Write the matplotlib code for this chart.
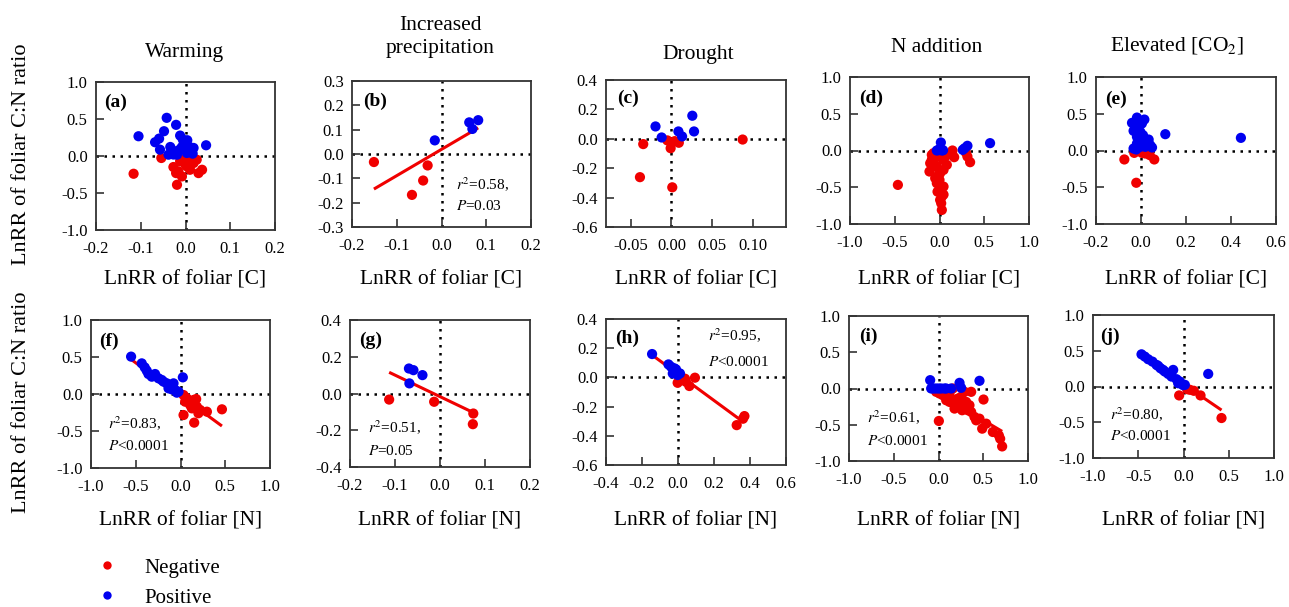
import matplotlib
matplotlib.use("Agg")
import matplotlib.pyplot as plt
from matplotlib.lines import Line2D
import numpy as np

plt.rcParams['font.family'] = ['Liberation Serif', 'DejaVu Serif']
plt.rcParams['mathtext.fontset'] = 'stix'

# ---------------- data ----------------
col_titles = ["Warming", "Increased\nprecipitation", "Drought", "N addition", "Elevated [CO$_2$]"]
panel_letters = ["(a)", "(b)", "(c)", "(d)", "(e)", "(f)", "(g)", "(h)", "(i)", "(j)"]

# (a) Warming, C
a_pos_x = [-0.105, -0.042, -0.048, -0.021, -0.068, -0.059, -0.057, -0.034, -0.038, -0.012, -0.006, 0.004,
           -0.008, -0.019, 0.003, 0.018, 0.016, 0.046, -0.023, -0.003, -0.013, 0.009, -0.027, 0.0]
a_pos_y = [0.267, 0.516, 0.335, 0.421, 0.186, 0.235, 0.086, 0.122, 0.018, 0.276, 0.222, 0.213,
           0.122, 0.018, 0.041, 0.109, 0.032, 0.145, 0.063, 0.154, 0.086, 0.122, 0.02, 0.09]
a_neg_x = [-0.054, -0.116, -0.019, -0.027, -0.016, -0.008, 0.003, 0.010, 0.025, 0.029, 0.037, 0.018,
           -0.006, 0.007, -0.021, 0.0, -0.012, 0.022]
a_neg_y = [-0.027, -0.240, -0.389, -0.149, -0.208, -0.276, -0.14, -0.186, -0.05, -0.231, -0.186, -0.095,
           -0.05, -0.05, -0.231, -0.118, -0.072, -0.05]

# (b) Increased precipitation, C
b_pos_x = [-0.015, 0.062, 0.069, 0.082]
b_pos_y = [0.056, 0.130, 0.103, 0.139]
b_neg_x = [-0.151, -0.066, -0.041, -0.031]
b_neg_y = [-0.033, -0.168, -0.109, -0.047]

# (c) Drought, C
c_pos_x = [-0.0195, -0.012, 0.0085, 0.013, 0.0255, 0.0276]
c_pos_y = [0.084, 0.009, 0.05, 0.016, 0.157, 0.05]
c_neg_x = [-0.0345, -0.0385, 0.001, -0.001, -0.005, 0.009, 0.004, 0.087]
c_neg_y = [-0.036, -0.261, -0.33, -0.064, -0.011, -0.027, -0.016, -0.005]

# (d) N addition, C
d_pos_x = [0.015, -0.03, 0.026, 0.0, 0.26, 0.312, 0.565, -0.01, 0.04, 0.28]
d_pos_y = [0.109, 0.0, 0.0, 0.018, 0.009, 0.064, 0.1, 0.005, 0.004, 0.03]
d_neg_x = [-0.465, -0.086, -0.104, -0.112, -0.067, -0.030, 0.007, 0.045, 0.082, 0.063, -0.030, 0.0,
           0.026, 0.019, 0.026, -0.048, -0.011, 0.045, 0.007, -0.03, 0.145, 0.164, 0.294, 0.312,
           0.342, -0.067, 0.037, -0.048, 0.0, -0.022, 0.045, -0.086, 0.082]
d_neg_y = [-0.468, -0.059, -0.173, -0.286, -0.127, -0.218, -0.309, -0.264, -0.195, -0.082, -0.445, -0.536,
           -0.627, -0.718, -0.809, -0.377, -0.332, -0.491, -0.673, -0.059, 0.0, -0.091, -0.027, -0.082,
           -0.159, -0.036, -0.127, -0.218, -0.4, -0.56, -0.6, -0.127, -0.06]

# (e) Elevated CO2, C
e_pos_x = [-0.04, -0.018, 0.015, 0.004, -0.033, -0.018, -0.003, 0.012, 0.027, 0.041, -0.033, -0.018,
           0.019, -0.003, 0.049, 0.108, 0.444, -0.01, 0.009, 0.034, -0.025, -0.021]
e_pos_y = [0.376, 0.448, 0.421, 0.367, 0.267, 0.186, 0.253, 0.14, 0.118, 0.072, 0.027, 0.095,
           0.05, 0.05, 0.041, 0.222, 0.172, 0.14, 0.208, 0.149, 0.344, 0.014]
e_neg_x = [-0.074, -0.021, 0.039, 0.059, 0.004, 0.019, -0.03]
e_neg_y = [-0.122, -0.439, -0.063, -0.122, -0.032, -0.041, -0.032]

# (f) Warming, N
f_pos_x = [-0.552, -0.433, -0.377, -0.358, -0.284, -0.246, -0.19, -0.153, -0.116, -0.078, -0.06, -0.022,
           0.026, -0.321, -0.134, -0.097, -0.041, -0.40, -0.21]
f_pos_y = [0.505, 0.414, 0.315, 0.27, 0.27, 0.212, 0.167, 0.144, 0.099, 0.144, 0.054, 0.032,
           0.225, 0.234, 0.077, 0.063, 0.018, 0.36, 0.19]
f_neg_x = [0.034, 0.071, 0.034, 0.146, 0.175, 0.127, 0.153, 0.22, 0.295, 0.463, 0.183, 0.108, 0.052, 0.2]
f_neg_y = [-0.014, -0.059, -0.284, -0.081, -0.068, -0.194, -0.387, -0.216, -0.239, -0.207, -0.171,
           -0.149, -0.104, -0.26]

# (g) Increased precipitation, N
g_pos_x = [-0.069, -0.059, -0.039, -0.068]
g_pos_y = [0.136, 0.127, 0.1, 0.055]
g_neg_x = [-0.113, -0.013, 0.074, 0.073]
g_neg_y = [-0.033, -0.045, -0.109, -0.167]

# (h) Drought, N
h_pos_x = [-0.144, -0.053, -0.039, -0.02, -0.015, -0.029, -0.002, 0.011, -0.011]
h_pos_y = [0.16, 0.089, 0.073, 0.062, 0.039, 0.027, 0.016, 0.027, 0.055]
h_neg_x = [-0.002, 0.026, 0.044, 0.063, 0.094, 0.039, 0.326, 0.369, 0.361]
h_neg_y = [-0.037, -0.018, -0.03, -0.059, -0.002, -0.009, -0.327, -0.265, -0.283]

# (i) N addition, N
i_pos_x = [-0.093, -0.082, -0.026, 0.030, 0.086, 0.141, 0.235, 0.253, 0.458, -0.056, 0.004, 0.067]
i_pos_y = [0.115, 0.0, 0.0, 0.0, 0.0, 0.0, 0.078, 0.009, 0.106, 0.0, 0.0, 0.0]
i_neg_x = [0.004, -0.026, 0.011, 0.048, 0.086, 0.123, 0.16, 0.179, 0.216, 0.235, 0.272, 0.179, 0.291,
           0.309, 0.328, 0.365, 0.402, 0.421, 0.458, 0.488, 0.503, 0.365, 0.607, 0.674, 0.689, 0.711,
           0.253, 0.197, 0.086, 0.123, 0.264, 0.346, 0.533]
i_neg_y = [-0.448, -0.046, -0.069, -0.092, -0.106, -0.069, 0.0, -0.162, -0.139, -0.208, -0.245, -0.277,
           -0.046, -0.185, -0.3, -0.323, -0.392, -0.439, -0.416, -0.554, -0.152, -0.046, -0.6, -0.646,
           -0.693, -0.799, -0.115, -0.208, -0.162, -0.185, -0.3, -0.231, -0.485]

# (j) Elevated CO2, N
j_pos_x = [-0.464, -0.427, -0.39, -0.343, -0.298, -0.254, -0.206, -0.169, -0.133, -0.114, -0.077, -0.041,
           -0.022, -0.004, 0.273, -0.225, -0.28, -0.059, 0.015]
j_pos_y = [0.45, 0.418, 0.381, 0.348, 0.302, 0.255, 0.209, 0.176, 0.139, 0.232, 0.102, 0.07,
           0.037, 0.019, 0.176, 0.232, 0.288, 0.046, 0.023]
j_neg_x = [-0.048, 0.04, 0.114, 0.188, 0.42, 0.07]
j_neg_y = [-0.125, -0.037, -0.06, -0.125, -0.441, -0.046]

# regression lines: (slope, intercept, x_start, x_end)
fits = {
    1: (1.08, 0.019, -0.151, 0.082),
    5: (-0.887, -0.022, -0.552, 0.463),
    6: (-1.171, -0.017, -0.113, 0.074),
    7: (-0.905, 0.023, -0.144, 0.361),
    8: (-0.729, -0.073, -0.056, 0.711),
    9: (-0.864, 0.033, -0.46, 0.42),
}
stats = {
    1: ("$r^2$=0.58,", "$P$=0.03"),
    5: ("$r^2$=0.83,", "$P$<0.0001"),
    6: ("$r^2$=0.51,", "$P$=0.05"),
    7: ("$r^2$=0.95,", "$P$<0.0001"),
    8: ("$r^2$=0.61,", "$P$<0.0001"),
    9: ("$r^2$=0.80,", "$P$<0.0001"),
}

pos_x = [a_pos_x, b_pos_x, c_pos_x, d_pos_x, e_pos_x, f_pos_x, g_pos_x, h_pos_x, i_pos_x, j_pos_x]
pos_y = [a_pos_y, b_pos_y, c_pos_y, d_pos_y, e_pos_y, f_pos_y, g_pos_y, h_pos_y, i_pos_y, j_pos_y]
neg_x = [a_neg_x, b_neg_x, c_neg_x, d_neg_x, e_neg_x, f_neg_x, g_neg_x, h_neg_x, i_neg_x, j_neg_x]
neg_y = [a_neg_y, b_neg_y, c_neg_y, d_neg_y, e_neg_y, f_neg_y, g_neg_y, h_neg_y, i_neg_y, j_neg_y]

# axis settings
xlims = [(-0.2, 0.2), (-0.2, 0.2), (-0.08, 0.14), (-1, 1), (-0.2, 0.6),
         (-1, 1), (-0.2, 0.2), (-0.4, 0.6), (-1, 1), (-1, 1)]
xticks = [[-0.2, -0.1, 0.0, 0.1, 0.2], [-0.2, -0.1, 0.0, 0.1, 0.2], [-0.05, 0.0, 0.05, 0.10],
          [-1.0, -0.5, 0.0, 0.5, 1.0], [-0.2, 0.0, 0.2, 0.4, 0.6],
          [-1.0, -0.5, 0.0, 0.5, 1.0], [-0.2, -0.1, 0.0, 0.1, 0.2], [-0.4, -0.2, 0.0, 0.2, 0.4, 0.6],
          [-1.0, -0.5, 0.0, 0.5, 1.0], [-1.0, -0.5, 0.0, 0.5, 1.0]]
xfmts = ["%.1f", "%.1f", "%.2f", "%.1f", "%.1f", "%.1f", "%.1f", "%.1f", "%.1f", "%.1f"]
ylims = [(-1, 1), (-0.3, 0.3), (-0.6, 0.4), (-1, 1), (-1, 1),
         (-1, 1), (-0.4, 0.4), (-0.6, 0.4), (-1, 1), (-1, 1)]
yticks = [[-1.0, -0.5, 0.0, 0.5, 1.0], [-0.3, -0.2, -0.1, 0.0, 0.1, 0.2, 0.3],
          [-0.6, -0.4, -0.2, 0.0, 0.2, 0.4], [-1.0, -0.5, 0.0, 0.5, 1.0], [-1.0, -0.5, 0.0, 0.5, 1.0],
          [-1.0, -0.5, 0.0, 0.5, 1.0], [-0.4, -0.2, 0.0, 0.2, 0.4], [-0.6, -0.4, -0.2, 0.0, 0.2, 0.4],
          [-1.0, -0.5, 0.0, 0.5, 1.0], [-1.0, -0.5, 0.0, 0.5, 1.0]]

# ---------------- layout ----------------
W, H = 1289, 607
fig = plt.figure(figsize=(W / 100, H / 100), dpi=100)

# pixel boxes (left, top, right, bottom)
boxes = [(96, 82, 275, 230), (352, 81, 531, 227), (606, 80, 786, 227), (850, 77, 1029, 224), (1096, 77, 1276, 224),
         (91, 320, 270, 468), (350, 320, 530, 467), (606, 319, 786, 465), (849, 316, 1028, 461), (1093, 315, 1274, 458)]
letter_pos = [(0.045, 0.86), (0.06, 0.86), (0.06, 0.875), (0.05, 0.857), (0.05, 0.846),
              (0.045, 0.854), (0.05, 0.864), (0.05, 0.87), (0.055, 0.857), (0.04, 0.849)]
stat_pos = {1: (0.58, 0.25, 0.114), 5: (0.097, 0.263, 0.124), 6: (0.10, 0.23, 0.084),
            7: (0.566, 0.847, 0.675), 8: (0.10, 0.258, 0.108), 9: (0.092, 0.267, 0.123)}

RED = '#f00000'
BLUE = '#0000f0'
spine_col = '#333333'

for k in range(10):
    l, t, r, b = boxes[k]
    ax = fig.add_axes([l / W, 1 - b / H, (r - l) / W, (b - t) / H])
    ax.set_xlim(*xlims[k])
    ax.set_ylim(*ylims[k])
    ax.axhline(0, color='black', ls=(0, (1, 2.2)), lw=1.8, zorder=1)
    ax.axvline(0, color='black', ls=(0, (1, 2.2)), lw=1.8, zorder=1)
    ax.scatter(neg_x[k], neg_y[k], s=54, color=RED, edgecolors='none', zorder=3)
    if k in fits:
        sl, ic, x0, x1 = fits[k]
        xx = np.array([x0, x1])
        ax.plot(xx, sl * xx + ic, color=RED, lw=2.2, zorder=4, solid_capstyle='butt')
    ax.scatter(pos_x[k], pos_y[k], s=54, color=BLUE, edgecolors='none', zorder=5)
    ax.set_xticks(xticks[k])
    ax.set_xticklabels([xfmts[k] % v for v in xticks[k]])
    ax.set_yticks(yticks[k])
    ax.set_yticklabels(["%.1f" % v for v in yticks[k]])
    ax.tick_params(direction='in', length=6, width=1.2, color=spine_col, labelsize=12)
    ax.tick_params(axis='x', pad=8)
    ax.tick_params(axis='y', pad=6)
    for s in ax.spines.values():
        s.set_color(spine_col)
        s.set_linewidth(1.3)
    lx, ly = letter_pos[k]
    ax.text(lx, ly, panel_letters[k], transform=ax.transAxes, fontsize=14, fontweight='bold',
            ha='left', va='center')
    if k in stats:
        sx, sy1, sy2 = stat_pos[k]
        ax.text(sx, sy1, stats[k][0], transform=ax.transAxes, fontsize=11, ha='left', va='baseline')
        ax.text(sx, sy2, stats[k][1], transform=ax.transAxes, fontsize=11, ha='left', va='baseline')

# column titles (pixel x,y centers)
title_xy = [(185, 52), (440, 37), (698, 54), (937, 47), (1177, 45)]
for (x, y), t in zip(title_xy, col_titles):
    fig.text(x / W, 1 - y / H, t, ha='center', va='center', fontsize=15.5, linespacing=1.3)

# x labels
for k in range(10):
    l, t, r, b = boxes[k]
    yl = 280 if k < 5 else 521
    fig.text((l + r) / 2 / W, 1 - yl / H, "LnRR of foliar [C]" if k < 5 else "LnRR of foliar [N]",
             ha='center', va='center', fontsize=15.5)

# y labels
for yc in [154, 402]:
    fig.text(22 / W, 1 - yc / H, "LnRR of foliar C:N ratio", rotation=90, ha='center', va='center',
             fontsize=16)

# legend
handles = [Line2D([], [], ls='none', marker='o', ms=6, color=RED, mec='none'),
           Line2D([], [], ls='none', marker='o', ms=6, color=BLUE, mec='none')]
fig.legend(handles, ["Negative", "Positive"], loc='upper left', bbox_to_anchor=(96.5 / W, 1 - 558 / H),
           frameon=False, fontsize=15, handlelength=1.0, handletextpad=1.3, labelspacing=0.5,
           borderpad=0, borderaxespad=0)

fig.savefig("out.png", dpi=100)
